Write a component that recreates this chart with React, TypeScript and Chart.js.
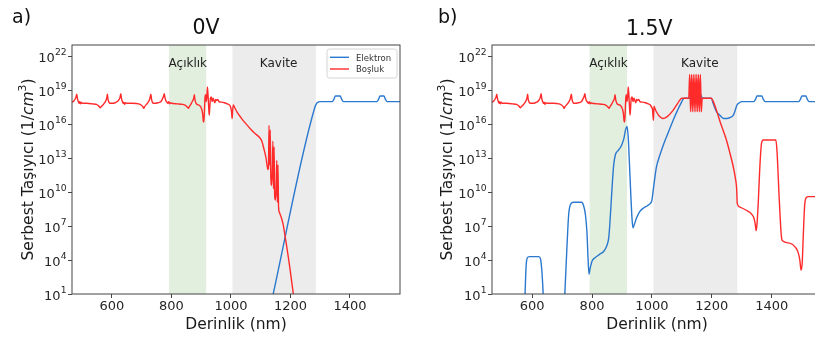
import React, { useEffect, useRef } from 'react';
import { Chart, registerables } from 'chart.js';
Chart.register(...registerables);
Chart.defaults.font.family = "'DejaVu Sans', sans-serif";

type Pt = [number, number]; // [depth nm, log10 density]

const depthTicks = [600, 800, 1000, 1200, 1400];
const densityTickExp = [1, 4, 7, 10, 13, 16, 19, 22];
const densityTickBase = '10';
const yTitleParts = ['Serbest Taşıyıcı (1/', 'cm', '3', ')'];
const xTitle = 'Derinlik (nm)';
const regionNames = ['Açıklık', 'Kavite'];
const regionStart = [792, 1005];
const regionEnd = [917, 1285];
const regionLabelAt = [855, 1160];
const regionLabelExp = 21.1;
const legendNames = ['Elektron', 'Boşluk'];

// hole density shared by both panels (466-1000 nm)
const holeBase: Pt[] = [
  [466, 17.95], [472, 18.05], [477, 18.25], [480, 18.45], [482, 18.65], [484, 18.3], [487, 18.0], [490, 17.85],
  [492, 18.0], [494, 17.8], [497, 17.95], [500, 17.85], [515, 17.85], [535, 17.8], [548, 17.75], [556, 17.6],
  [561, 17.45], [564, 17.55], [570, 17.7], [576, 17.9], [580, 18.1], [583, 18.35], [585, 18.65], [587, 18.2],
  [590, 17.95], [594, 17.85], [605, 17.85], [615, 17.95], [622, 18.1], [627, 18.35], [630, 18.7], [632, 18.3],
  [635, 18.0], [638, 17.85], [640, 17.95], [643, 17.75], [646, 17.9], [650, 17.85], [670, 17.85], [690, 17.8],
  [698, 17.7], [704, 17.55], [707, 17.4], [710, 17.55], [716, 17.75], [722, 17.95], [727, 18.2], [731, 18.65],
  [733, 18.25], [736, 17.95], [740, 17.85], [755, 17.9], [765, 18.0], [770, 18.25], [774, 18.5], [776, 18.7],
  [778, 18.4], [781, 18.1], [785, 17.95], [788, 17.85], [791, 18.0], [794, 17.8], [797, 17.9], [800, 17.85],
  [820, 17.8], [838, 17.75], [848, 17.65], [854, 17.5], [857, 17.4], [860, 17.55], [866, 17.8], [871, 18.05],
  [875, 18.3], [877, 18.6], [879, 18.2], [882, 17.9], [886, 17.75], [892, 17.7], [898, 17.55], [902, 17.3],
  [905, 16.9], [907, 16.3], [909, 16.2], [911, 17.2], [913, 18.4], [915, 18.6], [917, 18.0], [919, 18.4],
  [921, 19.3], [923, 18.6], [925, 17.6], [927, 16.8], [929, 17.5], [931, 18.3], [934, 18.4], [937, 18.0],
  [940, 18.3], [943, 18.1], [946, 17.9], [949, 18.2], [952, 18.1], [956, 18.2], [960, 18.0], [968, 17.95],
  [978, 17.9], [988, 17.8], [995, 17.7], [999, 17.5],
];

const holeTail0V: Pt[] = [
  [1002, 17.1], [1004, 16.5], [1006, 17.3], [1008, 17.7], [1012, 17.5], [1020, 17.1], [1036, 16.5], [1050, 16.05],
  [1065, 15.6], [1080, 15.2], [1097, 14.8], [1104, 14.5], [1110, 13.9], [1118, 13.0], [1124, 12.0], [1126, 12.1],
  [1128, 15.9], [1130, 12.4], [1132, 15.5], [1134, 11.3], [1137, 10.6], [1139, 12.0], [1141, 14.5], [1143, 10.3],
  [1145, 14.0], [1147, 9.6], [1150, 9.3], [1152, 10.5], [1154, 12.8], [1156, 9.1], [1158, 12.4], [1160, 8.7],
  [1163, 8.2], [1175, 7.2], [1185, 5.6], [1198, 3.3], [1212, 0.5],
];

const electronTail: Pt[] = [
  [1300, 18.0], [1340, 18.0], [1346, 18.2], [1351, 18.5], [1367, 18.5], [1372, 18.2], [1378, 18.0],
  [1490, 18.0], [1496, 18.2], [1501, 18.5], [1514, 18.5], [1519, 18.2], [1525, 18.0], [1568, 18.0],
];

const electron0V: Pt[] = [
  [1138, 0.5], [1142, 1.0], [1282, 17.5], [1288, 17.85], [1295, 17.97],
];

const holeTail15V: Pt[] = [
  [1002, 17.3], [1005, 16.35], [1007, 17.6], [1010, 17.4], [1015, 17.1], [1025, 16.7], [1037, 16.5], [1050, 16.65],
  [1070, 17.2], [1085, 17.8], [1100, 18.3], [1123, 18.3],
  [1126, 20.4], [1129, 17.1], [1132, 20.4], [1135, 17.1], [1138, 20.4], [1141, 17.1], [1144, 20.4], [1147, 17.1],
  [1150, 20.4], [1153, 17.1], [1156, 20.4], [1159, 17.1], [1162, 20.4], [1165, 17.1],
  [1168, 18.3], [1198, 18.3], [1205, 18.0], [1216, 17.2], [1228, 16.2], [1240, 15.3], [1250, 14.5], [1262, 13.3],
  [1272, 12.2], [1279, 11.2], [1283, 10.3], [1285, 9.0], [1292, 8.7], [1315, 8.4], [1335, 8.0], [1342, 7.6],
  [1346, 7.0], [1348, 6.6], [1351, 7.2], [1355, 9.0], [1360, 12.0], [1366, 14.3], [1372, 14.6], [1414, 14.6],
  [1418, 13.5], [1425, 9.5], [1432, 6.2], [1436, 5.7], [1460, 5.5], [1480, 5.1], [1488, 4.7], [1494, 4.0],
  [1498, 3.1], [1502, 3.8], [1506, 6.5], [1510, 8.8], [1515, 9.5], [1522, 9.6], [1568, 9.6],
];

const electron15V: Pt[] = [
  [574, -1], [577, 1.5], [580, 3.5], [584, 4.2], [590, 4.3], [622, 4.3], [628, 4.1], [632, 3.2], [636, 1.5], [640, -1],
  [706, -1], [710, 1.5], [716, 5.0], [722, 8.0], [728, 8.9], [737, 9.1], [765, 9.1], [772, 8.8], [778, 8.0],
  [783, 6.5], [787, 4.0], [790, 2.75], [794, 3.3], [800, 3.9], [810, 4.2], [825, 4.5], [840, 4.8], [850, 5.3],
  [856, 6.0], [861, 7.8], [866, 10.0], [872, 12.3], [878, 13.3], [888, 13.7], [898, 14.1], [906, 14.7],
  [912, 15.5], [917, 15.8], [921, 14.8], [925, 12.5], [930, 9.5], [934, 7.5], [937, 6.85], [942, 7.2],
  [950, 7.8], [960, 8.3], [972, 8.6], [985, 8.8], [995, 9.0], [1000, 9.3], [1005, 10.3], [1015, 12.2],
  [1027, 13.3], [1040, 14.3], [1055, 15.3], [1071, 16.35], [1085, 17.2], [1096, 17.8], [1108, 18.3],
  [1125, 18.3], [1135, 18.9], [1145, 19.2], [1158, 18.9], [1170, 18.3], [1198, 18.3], [1205, 17.8],
  [1216, 17.1], [1227, 16.8], [1240, 16.5], [1250, 16.5], [1262, 16.6], [1272, 16.8], [1279, 17.3],
  [1284, 17.7], [1292, 17.9],
];

const BLUE = '#2a79cf';
const RED = '#ff2b2b';
const AXIS = '#444444';
const TEXT = '#262626';
const FAMILY = "'DejaVu Sans'";

interface PanelSpec {
  hole: Pt[];
  electron: Pt[];
  padRight: number;
  yTitleBaseX: number;
  letter: string;
  letterX: number;
  title: string;
  titleX: number;
  titleBase: number;
  legend: boolean;
}

function decor(p: PanelSpec) {
  return {
    id: 'decor',
    beforeDatasetsDraw(chart: any) {
      const { ctx, chartArea: a, scales } = chart;
      const colors = ['#e2efdf', '#ececec'];
      ctx.save();
      regionStart.forEach((s, i) => {
        const x0 = scales.x.getPixelForValue(s);
        const x1 = scales.x.getPixelForValue(regionEnd[i]);
        ctx.fillStyle = colors[i];
        ctx.fillRect(x0, a.top, x1 - x0, a.bottom - a.top);
      });
      ctx.restore();
    },
    afterDatasetsDraw(chart: any) {
      const { ctx, chartArea: a, scales } = chart;
      ctx.save();
      // region labels
      ctx.font = `12px ${FAMILY}`;
      ctx.fillStyle = '#222';
      ctx.textAlign = 'center';
      ctx.textBaseline = 'alphabetic';
      const ly = scales.y.getPixelForValue(Math.pow(10, regionLabelExp));
      regionNames.forEach((n, i) => ctx.fillText(n, scales.x.getPixelForValue(regionLabelAt[i]), ly));
      // frame
      ctx.strokeStyle = AXIS;
      ctx.lineWidth = 1;
      ctx.strokeRect(a.left, a.top, a.right - a.left, a.bottom - a.top);
      // y tick labels with superscripts
      ctx.fillStyle = TEXT;
      ctx.textAlign = 'right';
      densityTickExp.forEach((e) => {
        const py = scales.y.getPixelForValue(Math.pow(10, e));
        const xr = a.left - 5.3;
        ctx.font = `9.2px ${FAMILY}`;
        const sup = String(e);
        const sw = ctx.measureText(sup).width;
        ctx.fillText(sup, xr, py - 1.5);
        ctx.font = `13px ${FAMILY}`;
        ctx.fillText(densityTickBase, xr - sw - 0.3, py + 5.6);
      });
      // y title (rotated, mathtext-like)
      const parts = [
        { t: yTitleParts[0], f: `15.5px ${FAMILY}`, dy: 0 },
        { t: yTitleParts[1], f: `italic 15.5px ${FAMILY}`, dy: 0 },
        { t: yTitleParts[2], f: `10.9px ${FAMILY}`, dy: -6.6 },
        { t: yTitleParts[3], f: `15.5px ${FAMILY}`, dy: 0 },
      ];
      let total = 0;
      parts.forEach((pt) => { ctx.font = pt.f; total += ctx.measureText(pt.t).width; });
      ctx.translate(p.yTitleBaseX, (a.top + a.bottom) / 2);
      ctx.rotate(-Math.PI / 2);
      ctx.textAlign = 'left';
      ctx.fillStyle = '#1a1a1a';
      let cx = -total / 2;
      parts.forEach((pt) => {
        ctx.font = pt.f;
        ctx.fillText(pt.t, cx, pt.dy);
        cx += ctx.measureText(pt.t).width;
      });
      ctx.setTransform(1, 0, 0, 1, 0, 0);
      // legend
      if (p.legend) {
        const lx = a.right - 73;
        const ty = a.top + 4;
        ctx.beginPath();
        (ctx as any).roundRect(lx, ty, 70, 29, 2.5);
        ctx.fillStyle = 'rgba(255,255,255,0.85)';
        ctx.fill();
        ctx.strokeStyle = '#d4d4d4';
        ctx.lineWidth = 1;
        ctx.stroke();
        const cols = [BLUE, RED];
        ctx.font = `8.5px ${FAMILY}`;
        ctx.textAlign = 'left';
        legendNames.forEach((n, i) => {
          const yy = a.top + 12.3 + i * 11.7;
          ctx.strokeStyle = cols[i];
          ctx.lineWidth = 1.4;
          ctx.beginPath();
          ctx.moveTo(lx + 3, yy);
          ctx.lineTo(lx + 22, yy);
          ctx.stroke();
          ctx.fillStyle = '#333';
          ctx.fillText(n, lx + 29, yy + 3.4);
        });
      }
      // panel letter and title
      ctx.fillStyle = '#111';
      ctx.textAlign = 'left';
      ctx.font = `19px ${FAMILY}`;
      ctx.fillText(p.letter, p.letterX, 22.7);
      ctx.textAlign = 'center';
      ctx.font = `20.5px ${FAMILY}`;
      ctx.fillText(p.title, p.titleX, p.titleBase);
      ctx.restore();
    },
  };
}

function buildConfig(p: PanelSpec): any {
  const toData = (pts: Pt[]) => pts.map(([x, e]) => ({ x, y: Math.pow(10, e) }));
  const line = { borderWidth: 1.4, pointRadius: 0, cubicInterpolationMode: 'monotone', fill: false };
  return {
    type: 'line',
    data: {
      datasets: [
        { ...line, label: legendNames[1], data: toData(p.hole), borderColor: RED, order: 0 },
        { ...line, label: legendNames[0], data: toData(p.electron), borderColor: BLUE, order: 1 },
      ],
    },
    options: {
      responsive: false,
      animation: false,
      events: [],
      layout: { padding: { top: 45, right: p.padRight, left: 0, bottom: 0 } },
      plugins: { legend: { display: false }, tooltip: { enabled: false }, title: { display: false } },
      scales: {
        x: {
          type: 'linear',
          min: 466,
          max: 1568,
          afterBuildTicks: (s: any) => { s.ticks = depthTicks.map((v) => ({ value: v })); },
          afterFit: (s: any) => { s.height = 46; },
          ticks: { callback: (v: any) => String(v), font: { size: 13 }, color: TEXT, padding: 1, maxRotation: 0, autoSkip: false },
          grid: { display: true, drawOnChartArea: false, drawTicks: true, tickLength: 4, color: AXIS },
          border: { display: false },
          title: { display: true, text: xTitle, font: { size: 15.5 }, color: '#1a1a1a', padding: { top: 0, bottom: 6 } },
        },
        y: {
          type: 'logarithmic',
          min: 10,
          max: 1e23,
          afterBuildTicks: (s: any) => { s.ticks = densityTickExp.map((e) => ({ value: Math.pow(10, e) })); },
          afterFit: (s: any) => { s.width = 72; },
          ticks: { display: false },
          grid: { display: true, drawOnChartArea: false, drawTicks: true, tickLength: 4, color: AXIS },
          border: { display: false },
          title: { display: false },
        },
      },
    },
    plugins: [decor(p)],
  };
}

const leftSpec: PanelSpec = {
  hole: [...holeBase, ...holeTail0V],
  electron: [...electron0V, ...electronTail],
  padRight: 10, yTitleBaseX: 32.5, letter: 'a)', letterX: 12, title: '0V', titleX: 206, titleBase: 34.3, legend: true,
};
const rightSpec: PanelSpec = {
  hole: [...holeBase, ...holeTail15V],
  electron: [...electron15V, ...electronTail],
  padRight: 8, yTitleBaseX: 31.5, letter: 'b)', letterX: 18, title: '1.5V', titleX: 229.3, titleBase: 35, legend: false,
};

function Panel({ spec }: { spec: PanelSpec }) {
  const ref = useRef<HTMLCanvasElement>(null);
  useEffect(() => {
    const chart = new Chart(ref.current as HTMLCanvasElement, buildConfig(spec));
    return () => chart.destroy();
  }, [spec]);
  return <canvas ref={ref} width={410} height={340} style={{ width: 410, height: 340, display: 'block' }} />;
}

export default function App() {
  return (
    <div style={{ position: 'fixed', left: 0, top: 0, width: 815, height: 340, overflow: 'hidden', background: '#fff' }}>
      <div style={{ position: 'absolute', left: 0, top: 0 }}>
        <Panel spec={leftSpec} />
      </div>
      <div style={{ position: 'absolute', left: 420, top: 0 }}>
        <Panel spec={rightSpec} />
      </div>
    </div>
  );
}
